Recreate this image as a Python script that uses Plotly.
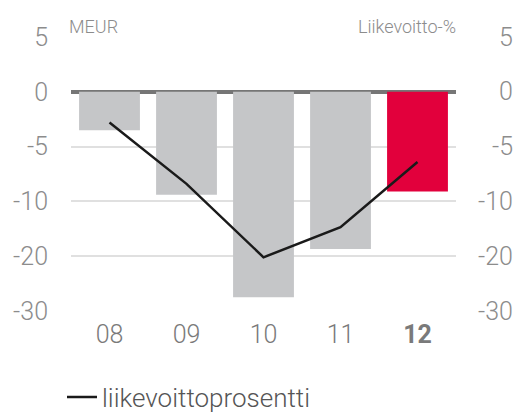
import plotly.graph_objects as go

years = ["08", "09", "10", "11", "12"]
year_labels = ["08", "09", "10", "11", "<b>12</b>"]
meur = [-3.5, -9.4, -27.5, -18.7, -9.1]          # MEUR (bars)
margin_pct = [-2.8, -8.4, -20.2, -14.7, -6.4]    # liikevoittoprosentti (line)
tick_values = [5, 0, -5, -10, -20, -30]
bar_colors = ["#c5c6c8", "#c5c6c8", "#c5c6c8", "#c5c6c8", "#e2003c"]

FONT = "Roboto"
TICK_GRAY = "#8c8c8c"


def disp(v):
    # broken scale: linear down to -10, half-scale below -10
    return v if v >= -10 else -10 + (v + 10) / 2.0


tick_pos = [disp(v) for v in tick_values]
tick_text = [str(v) for v in tick_values]

fig = go.Figure()
fig.add_trace(go.Bar(
    x=years, y=[disp(v) for v in meur],
    marker=dict(color=bar_colors, line=dict(width=0)),
    showlegend=False, hoverinfo="skip",
))
fig.add_trace(go.Scatter(
    x=years, y=[disp(v) for v in margin_pct], yaxis="y2",
    mode="lines", line=dict(color="#1a1a1a", width=2.5),
    name="liikevoittoprosentti",
))

axis_range = [disp(-30), disp(5)]

fig.update_layout(
    width=519, height=413,
    margin=dict(l=71, r=63, t=37, b=102),
    paper_bgcolor="white", plot_bgcolor="white",
    font=dict(family=FONT, color=TICK_GRAY),
    bargap=0.21,
    xaxis=dict(
        type="category", tickvals=years, ticktext=year_labels,
        showgrid=False, showline=False, ticks="", ticklabelstandoff=6,
        tickfont=dict(size=25, color="#7a7a7a", family=FONT, weight=300),
    ),
    yaxis=dict(
        range=axis_range, tickvals=tick_pos, ticktext=tick_text,
        showgrid=True, gridcolor="#e0e0e0", gridwidth=1.5,
        zeroline=True, zerolinecolor="#767676", zerolinewidth=3.5,
        showline=False, ticks="", ticklabelstandoff=22,
        tickfont=dict(size=25, color=TICK_GRAY, family=FONT, weight=300),
    ),
    yaxis2=dict(
        range=axis_range, overlaying="y", side="right",
        showgrid=False, zeroline=False, showticklabels=False, ticks="",
    ),
    legend=dict(
        orientation="h", xref="container", yref="container",
        x=62 / 519, xanchor="left", y=1 - 397 / 413, yanchor="middle",
        font=dict(size=26, color="#555555", family=FONT, weight=300),
        itemwidth=30,
    ),
)

# right-side axis labels (right-aligned, as in the original)
for pos, txt in zip(tick_pos, tick_text):
    fig.add_annotation(
        xref="paper", yref="y", x=1.0, y=pos, xanchor="right", yanchor="middle",
        xshift=59, text=txt, showarrow=False,
        font=dict(size=25, color=TICK_GRAY, family=FONT, weight=300),
    )

fig.add_annotation(xref="paper", yref="paper", x=0, y=1, xanchor="left", yanchor="bottom",
                   text="MEUR", showarrow=False, xshift=-4, yshift=-2,
                   font=dict(size=18, color=TICK_GRAY, family=FONT, weight=300))
fig.add_annotation(xref="paper", yref="paper", x=1, y=1, xanchor="right", yanchor="bottom",
                   text="Liikevoitto-%", showarrow=False, xshift=2, yshift=-2,
                   font=dict(size=18, color=TICK_GRAY, family=FONT, weight=300))

fig.write_html("out.html", config={"displayModeBar": False},
               post_script="document.body.style.margin='0';")
